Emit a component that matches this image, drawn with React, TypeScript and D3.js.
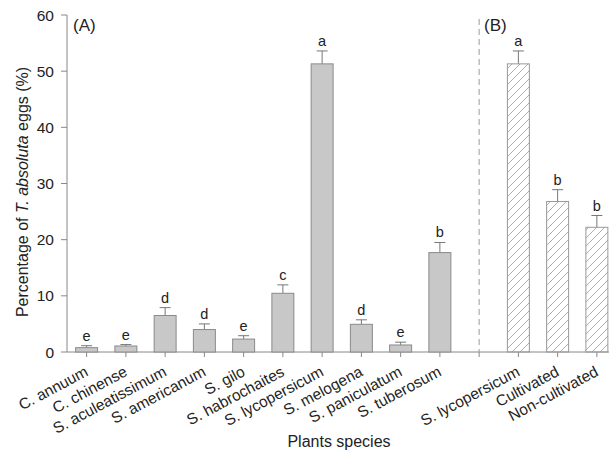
import React from "react";
import * as d3 from "d3";

const categoriesA = ["C. annuum", "C. chinense", "S. aculeatissimum", "S. americanum", "S. gilo", "S. habrochaites", "S. lycopersicum", "S. melogena", "S. paniculatum", "S. tuberosum"];
const valuesA = [0.77, 1.07, 6.5, 4.0, 2.3, 10.45, 51.3, 4.93, 1.25, 17.7];
const errorsA = [0.35, 0.25, 1.4, 1.0, 0.6, 1.5, 2.3, 0.8, 0.5, 1.8];
const lettersA = ["e", "e", "d", "d", "e", "c", "a", "d", "e", "b"];

const categoriesB = ["S. lycopersicum", "Cultivated", "Non-cultivated"];
const valuesB = [51.3, 26.8, 22.2];
const errorsB = [2.3, 2.1, 2.1];
const lettersB = ["a", "b", "b"];

const yTicks = [0, 10, 20, 30, 40, 50, 60];

const W = 609, H = 453;
const left = 67, right = 616.5, top = 15, bottom = 352;

export default function App() {
  const slots = [...categoriesA.map((c, i) => "A" + i), "gap", ...categoriesB.map((c, i) => "B" + i)];
  const x = d3.scaleBand<string>().domain(slots).range([left, right]).paddingInner(0).paddingOuter(0);
  const y = d3.scaleLinear().domain([0, 60]).range([bottom, top]);
  const bw = x.step() * 0.56;
  const font = "'Liberation Sans', Arial, sans-serif";
  const axisColor = "#888";
  const textColor = "#222";

  const bars = [
    ...categoriesA.map((c, i) => ({ key: "A" + i, label: c, v: valuesA[i], e: errorsA[i], l: lettersA[i], hatch: false })),
    ...categoriesB.map((c, i) => ({ key: "B" + i, label: c, v: valuesB[i], e: errorsB[i], l: lettersB[i], hatch: true })),
  ];
  const cx = (k: string) => (x(k) as number) + x.step() / 2;

  return (
    <svg width={W} height={H} style={{ position: "absolute", left: 0, top: 0, fontFamily: font }}>
      <defs>
        <pattern id="hatch" patternUnits="userSpaceOnUse" width="8" height="8">
          <path d="M-2,2 l4,-4 M0,8 l8,-8 M6,10 l4,-4" stroke="#999" strokeWidth="0.8" />
        </pattern>
      </defs>
      <rect width={W} height={H} fill="#fff" />
      {/* y axis */}
      <line x1={left} x2={left} y1={top} y2={bottom} stroke={axisColor} strokeWidth={1} />
      {yTicks.map((t) => (
        <g key={t}>
          <line x1={left - 6} x2={left} y1={y(t)} y2={y(t)} stroke={axisColor} />
          <text x={left - 13} y={y(t)} dy="0.36em" textAnchor="end" fontSize={15.5} fill={textColor}>{t}</text>
        </g>
      ))}
      {/* x axis */}
      <line x1={left} x2={W} y1={bottom} y2={bottom} stroke={axisColor} />
      {slots.map((s) => (
        <line key={s} x1={cx(s)} x2={cx(s)} y1={bottom} y2={bottom + 5} stroke={axisColor} />
      ))}
      {/* divider */}
      <line x1={cx("gap")} x2={cx("gap")} y1={y(59.3)} y2={bottom} stroke="#999" strokeDasharray="6,4" />
      {/* bars */}
      {bars.map((b) => {
        const c = cx(b.key);
        return (
          <g key={b.key}>
            <line x1={c} x2={c} y1={y(b.v)} y2={y(b.v + b.e)} stroke="#777" />
            <line x1={c - 5.5} x2={c + 5.5} y1={y(b.v + b.e)} y2={y(b.v + b.e)} stroke="#777" />
            <rect x={c - bw / 2} y={y(b.v)} width={bw} height={bottom - y(b.v)}
              fill={b.hatch ? "url(#hatch)" : "#c8c8c8"} stroke={b.hatch ? "#999" : "#8a8a8a"} strokeWidth={1} />
            <text x={c} y={y(b.v + b.e) - 5} textAnchor="middle" fontSize={14.5} fill={textColor}>{b.l}</text>
            <text transform={`translate(${c + 2.5},${bottom + 23}) rotate(-28)`} textAnchor="end" fontSize={15.5} fill={textColor}>{b.label}</text>
          </g>
        );
      })}
      <text x={73} y={31} fontSize={17} fill={textColor}>(A)</text>
      <text x={484} y={31} fontSize={17} fill={textColor}>(B)</text>
      <text transform={`translate(28,192) rotate(-90)`} textAnchor="middle" fontSize={16} fill={textColor}>
        Percentage of <tspan fontStyle="italic">T. absoluta</tspan> eggs (%)
      </text>
      <text x={339} y={447} textAnchor="middle" fontSize={16} fill={textColor}>Plants species</text>
    </svg>
  );
}
